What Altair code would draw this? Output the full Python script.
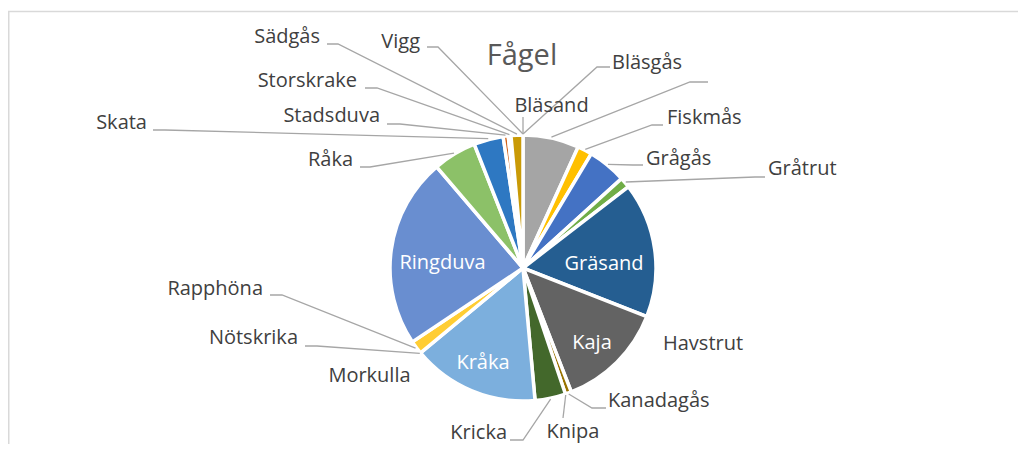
import math
import altair as alt
import pandas as pd

# ---------------- data ----------------
birds = ["Bläsand", "Bläsgås", "", "Fiskmås", "Grågås", "Gråtrut", "Gräsand",
         "Havstrut", "Kaja", "Kanadagås", "Knipa", "Kricka", "Kråka", "Morkulla",
         "Nötskrika", "Rapphöna", "Ringduva", "Råka", "Skata", "Stadsduva",
         "Storskrake", "Sädgås", "Vigg"]
counts = [0, 0, 24.5, 6.4, 16.9, 4.6, 59.1,
          0, 47.3, 2.7, 0, 13.4, 55.6, 0,
          0, 5.9, 83.3, 19.0, 12.9, 2.2,
          1.2, 5.2, 0]
palette = ["#5B9BD5", "#ED7D31", "#A5A5A5", "#FFC000", "#4472C4", "#70AD47", "#255E91",
           "#9E480E", "#636363", "#997300", "#264478", "#43682B", "#7CAFDD", "#F1975A",
           "#B7B7B7", "#FFCD33", "#698ED0", "#8CC168", "#2E78C2", "#D0621A",
           "#848484", "#C99A06", "#3A5FA0"]
title_text = "Fågel"

# ---------------- layout (page pixels) ----------------
W, H = 1010, 436
cx, cy, r = 523, 268, 133
# name: (x, y, align, inside?, label-side leader points)
label_layout = {
    "Bläsand": (551.5, 106.3, "center", False, [(523, 117)]),
    "Bläsgås": (612, 62.7, "left", False, [(610, 67), (597, 67)]),
    "": (712, 78, "left", False, [(708, 82), (690, 82)]),
    "Fiskmås": (667, 117.8, "left", False, [(663, 125), (652, 125)]),
    "Grågås": (646, 158.8, "left", False, [(643, 165), (633, 165)]),
    "Gråtrut": (768, 168.8, "left", False, [(765, 177), (755, 177)]),
    "Gräsand": (604, 264.2, "center", True, []),
    "Havstrut": (663, 343.8, "left", False, []),
    "Kaja": (592, 342.5, "center", True, []),
    "Kanadagås": (608, 400.5, "left", False, [(606, 408), (592, 408)]),
    "Knipa": (573, 432, "center", False, [(563, 418)]),
    "Kricka": (507, 432.5, "right", False, [(510, 440), (523, 440)]),
    "Kråka": (483, 362.5, "center", True, []),
    "Morkulla": (369.5, 375.8, "center", False, []),
    "Nötskrika": (298, 337.5, "right", False, [(305, 346), (317, 346)]),
    "Rapphöna": (263, 288.8, "right", False, [(270, 295), (282, 295)]),
    "Ringduva": (442.5, 262.5, "center", True, []),
    "Råka": (353, 160, "right", False, [(360, 167), (370, 167)]),
    "Skata": (147, 122.8, "right", False, [(153, 130), (165, 130)]),
    "Stadsduva": (380, 115.5, "right", False, [(387, 124), (400, 124)]),
    "Storskrake": (357, 80.8, "right", False, [(365, 88), (377, 88)]),
    "Sädgås": (320, 37.2, "right", False, [(327, 44), (338, 44)]),
    "Vigg": (420, 41.7, "right", False, [(427, 47), (438, 47)]),
}

keys = [f"k{i:02d}" for i in range(len(birds))]
pie_df = pd.DataFrame({"key": keys, "name": birds, "count": counts,
                       "idx": list(range(len(birds)))})

# leader line end points on the pie, from the cumulative slice angles
total = sum(counts)
line_rows = []
text_rows = []
cum = 0.0
for i, (b, c) in enumerate(zip(birds, counts)):
    mid = (cum + c / 2) / total * 2 * math.pi
    cum += c
    x, y, align, inside, pts = label_layout[b]
    text_rows.append({"name": b, "x": x, "y": y, "align": align,
                      "inside": inside})
    if pts:
        px = cx + (r + 1) * math.sin(mid)
        py = cy - (r + 1) * math.cos(mid)
        seq = 0
        for (lx, ly) in pts:
            line_rows.append({"lab": f"L{i}", "seq": seq, "x": lx, "y": ly})
            seq += 1
        line_rows.append({"lab": f"L{i}", "seq": seq, "x": px, "y": py})

text_df = pd.DataFrame(text_rows)
line_df = pd.DataFrame(line_rows)

xs = alt.Scale(domain=[8, 8 + W], nice=False, zero=False)
ys = alt.Scale(domain=[8 + H, 8], nice=False, zero=False)
FONT = "Open Sans"

frame_top = alt.Chart(pd.DataFrame({"a": [0]})).mark_rule(
    color="#D9D9D9", strokeWidth=1.5).encode(
    x=alt.value(0), x2=alt.value(W), y=alt.value(3.5))
frame_left = alt.Chart(pd.DataFrame({"a": [0]})).mark_rule(
    color="#D9D9D9", strokeWidth=1.5).encode(
    x=alt.value(0.75), y=alt.value(3.5), y2=alt.value(H))

pie = alt.Chart(pie_df).transform_filter("datum.count > 0").mark_arc(
    outerRadius=r, stroke="white", strokeWidth=3.5).encode(
    theta=alt.Theta("count:Q", stack=True,
                    scale=alt.Scale(domain=[0, total], range=[0, 2 * math.pi])),
    color=alt.Color("key:N", scale=alt.Scale(domain=keys, range=palette), legend=None),
    order=alt.Order("idx:Q"),
    x=alt.value(cx - 8), y=alt.value(cy - 8),
)

leaders = alt.Chart(line_df).mark_line(color="#A6A6A6", strokeWidth=1.3).encode(
    x=alt.X("x:Q", scale=xs, axis=None),
    y=alt.Y("y:Q", scale=ys, axis=None),
    detail="lab:N",
    order="seq:Q",
)


def text_layer(align, inside):
    return alt.Chart(text_df).transform_filter(
        f"datum.align == '{align}' && datum.inside == {str(inside).lower()}"
    ).mark_text(align=align, baseline="middle", font=FONT, fontSize=20,
                color="white" if inside else "#404040").encode(
        x=alt.X("x:Q", scale=xs, axis=None),
        y=alt.Y("y:Q", scale=ys, axis=None),
        text="name:N",
    )


texts = [text_layer("left", False), text_layer("right", False),
         text_layer("center", False), text_layer("center", True)]

title = alt.Chart(pd.DataFrame({"t": [title_text], "x": [522], "y": [55.8]})).mark_text(
    align="center", baseline="middle", font=FONT, fontSize=29, color="#595959").encode(
    x=alt.X("x:Q", scale=xs, axis=None),
    y=alt.Y("y:Q", scale=ys, axis=None),
    text="t:N",
)

chart = alt.layer(frame_top, frame_left, pie, leaders, *texts, title).properties(
    width=W, height=H, padding=0, autosize="none", background="white"
).configure_view(stroke=None)

chart.save("out.html", embed_options={"renderer": "svg", "actions": False})
